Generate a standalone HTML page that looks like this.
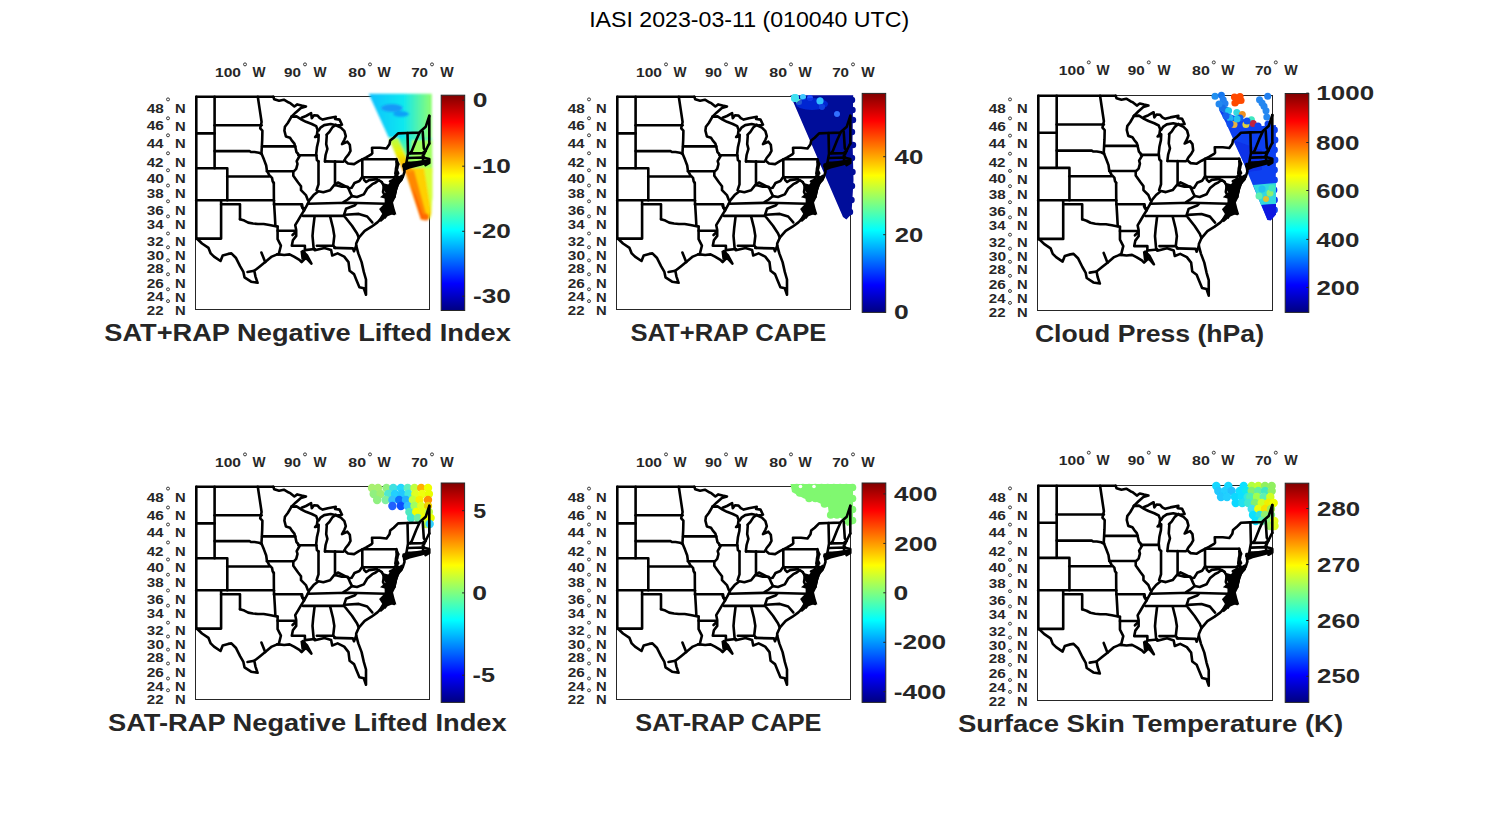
<!DOCTYPE html><html><head><meta charset="utf-8"><style>html,body{margin:0;padding:0;background:#fff;}svg{display:block;}text{font-family:"Liberation Sans",sans-serif;}</style></head><body>
<svg width="1500" height="825" viewBox="0 0 1500 825">
<defs>
<linearGradient id="jet" x1="0" y1="1" x2="0" y2="0"><stop offset="0" stop-color="#000080"/><stop offset="0.125" stop-color="#0000ff"/><stop offset="0.375" stop-color="#00ffff"/><stop offset="0.625" stop-color="#ffff00"/><stop offset="0.875" stop-color="#ff0000"/><stop offset="1" stop-color="#800000"/></linearGradient>
<g id="map" fill="none" stroke="#000" stroke-width="2.6" stroke-linejoin="round" stroke-linecap="round">
<polyline points="196.3,96.8 273.3,96.8"/>
<polyline points="196.3,96.8 196.3,238.6"/>
<polyline points="429.3,115.9 429.3,143.5"/>
<polyline points="214.6,96.8 214.6,168.2"/>
<polyline points="214.6,125.2 261.6,125.2"/>
<polyline points="196.3,133.4 214.6,133.4"/>
<polyline points="214.6,151.1 249.5,151.1 250.9,152.0 254.5,152.0 258.9,152.7 261.8,154.2 264.0,159.6 266.2,165.5 266.9,170.5 269.1,174.9 272.0,177.8 272.7,181.5 273.8,182.9"/>
<polyline points="196.3,168.2 227.3,168.2 227.3,200.3"/>
<polyline points="227.3,176.5 269.1,176.5"/>
<polyline points="196.3,200.3 273.9,200.3"/>
<polyline points="221.1,200.3 221.1,238.6 196.3,238.6"/>
<polyline points="221.1,204.2 240.0,204.2 240.0,219.2"/>
<polyline points="240.0,219.2 244.3,220.6 248.2,222.6 253.0,223.5 257.9,224.0 263.7,224.0 269.5,225.0 274.4,226.0 277.6,226.5"/>
<polyline points="273.8,182.9 273.9,200.3 274.8,215.0 275.4,226.0"/>
<polyline points="277.6,226.5 277.6,239.2 280.9,245.7 279.5,251.2 278.7,254.4"/>
<polyline points="273.9,204.3 302.1,204.3 302.6,208.2 304.5,208.2"/>
<polyline points="277.6,230.8 295.6,230.8"/>
<polyline points="257.8,96.8 259.7,109.4 261.6,122.0 260.2,128.3 262.4,130.7 262.2,140.0 261.8,147.3 261.5,152.4 261.8,154.2"/>
<polyline points="262.2,146.4 295.3,146.4"/>
<polyline points="266.9,171.3 293.3,171.3"/>
<polyline points="273.3,96.8 274.2,99.2 279.1,100.7 283.9,99.7 288.8,102.6 290.0,102.9 294.4,106.5 297.3,104.4 301.6,105.5 306.0,106.5 300.9,108.0 295.8,112.4 291.5,116.7"/>
<polyline points="291.5,116.7 287.8,123.0 284.9,126.8 284.4,130.7 285.9,136.5 290.0,137.8 291.7,140.4 294.4,143.6 295.6,148.2 296.5,152.1 298.0,153.8 297.5,153.1 299.6,156.0 296.7,161.1 297.5,164.0 296.2,168.9 293.3,171.8 293.3,175.7 298.1,182.5 301.0,186.3 301.0,190.2 305.9,195.1 307.8,199.9 308.8,200.9"/>
<polyline points="308.8,200.9 308.8,201.9 304.0,210.6 301.0,215.4 298.1,220.3 295.2,225.1 296.2,230.0 296.2,235.9 292.9,240.3 291.8,245.7 304.9,245.7 304.9,250.1"/>
<polyline points="291.5,116.7 296.5,116.4 301.6,119.6 306.0,121.8 311.8,124.0 316.2,126.2 317.6,129.8 316.9,134.9 315.1,137.1 317.5,136.5 318.7,134.9 318.4,140.7 316.9,147.3 316.2,153.8 316.9,160.0 318.5,161.4"/>
<polyline points="298.5,155.3 316.2,155.3"/>
<polyline points="301.6,117.8 306.0,116.0 311.1,113.1 311.8,118.2 314.0,115.3 317.6,115.6 319.8,118.2 322.7,119.6 327.8,118.2 335.8,116.7 335.1,118.9 339.5,119.6 342.0,124.7 337.3,125.5 330.7,124.0 324.2,125.1 320.5,127.6 318.7,130.5"/>
<polyline points="335.8,124.7 332.2,127.6 329.3,132.0 326.4,134.9 326.8,135.0 326.2,144.1 327.4,148.9 325.6,155.0 325.0,159.8 325.0,161.4"/>
<polyline points="336.5,125.5 340.9,127.6 344.4,131.1 345.8,136.2 344.4,139.8 342.0,144.1 347.4,141.7 349.8,144.7 350.5,150.8 348.6,154.4 345.6,158.0 344.4,160.5"/>
<polyline points="325.0,161.4 343.2,161.7"/>
<polyline points="344.4,160.5 348.0,163.5 354.1,164.1 358.9,161.1 366.2,157.4 371.3,154.4 372.3,153.2 372.0,147.8 380.0,147.8 386.5,148.5 389.5,144.2 390.2,140.6 393.7,137.7 398.1,133.4 406.8,133.0 419.2,132.6 420.6,131.2 425.7,126.8 429.3,115.9"/>
<polyline points="318.5,161.4 318.5,184.4 316.6,190.2"/>
<polyline points="335.0,161.4 335.0,184.4 335.3,185.0"/>
<polyline points="308.8,200.9 313.6,195.1 318.5,191.2 323.3,192.2 330.1,190.2 334.0,185.4 337.9,182.5 343.7,185.4 349.5,188.3 351.6,187.8 354.5,183.0 359.4,181.0 362.3,176.8"/>
<polyline points="362.3,160.5 362.3,176.8"/>
<polyline points="362.3,159.2 396.3,159.2"/>
<polyline points="362.3,177.2 394.3,177.2"/>
<polyline points="396.3,159.2 398.2,164.5 396.3,169.4 398.2,173.3 394.3,177.2 394.4,179.3 390.0,181.5"/>
<polyline points="307.8,203.8 347.6,202.8 385.9,203.8"/>
<polyline points="335.0,185.1 341.8,186.8 347.7,186.8 350.3,192.7 352.0,196.1 347.7,199.5 343.5,202.1"/>
<polyline points="352.0,196.1 357.0,197.0 363.8,194.4 367.2,188.5 372.3,184.2 375.7,182.5 378.8,180.1 381.7,182.0"/>
<polyline points="363.3,177.2 364.2,180.1 366.2,182.0 369.1,180.1 376.9,179.1"/>
<polyline points="303.0,215.9 343.7,215.9"/>
<polyline points="314.6,216.4 313.2,228.0 312.5,235.9 313.6,247.9 314.7,250.1"/>
<polyline points="330.1,216.4 333.0,228.0 334.3,235.9 333.2,245.7 335.4,247.9"/>
<polyline points="316.9,245.7 333.2,245.7"/>
<polyline points="334.3,247.9 352.9,248.4 354.0,251.2 356.2,245.7"/>
<polyline points="343.7,215.9 346.0,208.8 354.5,205.5 356.2,203.8"/>
<polyline points="345.2,214.8 358.8,213.9 367.2,216.5 372.3,222.4"/>
<polyline points="345.2,217.3 352.0,225.8 357.1,233.5 358.8,237.7"/>
<polyline points="399.5,180.0 396.1,188.5 394.4,197.0 390.2,205.5 394.4,213.9 389.3,212.2 384.2,215.6 377.4,222.4 371.5,226.7 364.7,230.9 358.8,237.7 356.2,243.6 356.2,245.7 358.3,253.4 361.6,262.1 363.8,271.9 366.0,279.5 366.0,294.8 363.8,288.3 359.4,287.2 356.2,279.5 354.0,274.1 349.6,270.8 348.5,262.1 344.2,256.6 337.6,253.4 332.2,255.5 331.1,250.1 324.5,247.9 315.8,250.1 314.7,249.0 304.9,250.1"/>
<polyline points="302.7,251.2 307.1,255.5 311.4,263.7 306.0,257.7 301.6,262.1 299.4,259.9 294.0,256.6 289.6,254.4 284.2,255.0 278.7,254.4 277.2,254.4"/>
<polyline points="277.2,254.4 271.8,256.6 265.2,262.1 259.8,266.4 254.3,270.8 255.4,276.3 257.6,282.8 251.1,281.7 244.5,277.3 243.4,271.9 240.2,266.4 235.8,257.7 231.4,253.4 228.2,253.9 222.7,255.5 220.5,261.0 214.0,256.6 210.7,253.4 208.5,247.9 202.0,243.5 197.6,239.2 196.3,238.6"/>
<polyline points="407.5,133.0 408.0,153.6 406.4,162.9 403.6,166.2"/>
<polyline points="419.5,132.8 416.2,140.0 411.8,150.9 410.2,153.1"/>
<polyline points="409.1,153.4 422.7,153.1 425.5,150.9"/>
<polyline points="422.7,131.5 423.8,148.2 425.5,150.9"/>
<polyline points="429.3,143.5 428.2,145.5 425.5,150.9 423.8,154.7 422.7,155.8 424.9,158.0 429.3,159.1 429.3,162.9 425.5,165.1"/>
<polyline points="408.0,158.0 422.7,157.5 423.5,161.8"/>
<polyline points="408.0,162.9 417.3,162.9 423.8,161.8"/>
<polyline points="403.6,166.2 411.8,165.6 420.0,164.0 427.1,162.9"/>
<polyline points="398.2,164.0 397.1,164.0 396.0,168.4 395.5,173.8 397.6,178.2 398.2,183.6"/>
<polyline points="381.7,182.0 384.0,186.0 383.0,192.0 385.9,198.0 386.0,203.8"/>
<polyline points="394.3,177.2 393.0,183.0 396.0,188.0 394.4,197.0"/>
<polyline points="265.2,262.1 261.4,252.5"/>
<polyline points="254.3,270.8 247.5,272.0"/>
<polyline points="304.0,210.6 301.5,206.0"/>
<polyline points="295.2,232.5 292.5,235.0"/>
<polyline points="403.6,164.5 404.5,171.8 402.7,177.3 400.0,180.9"/>
<polyline points="396.4,161.8 397.3,168.2 395.5,173.6 400.0,180.0"/>
<polygon fill="#000" stroke="none" points="397.3,177.3 401.8,174.5 403.6,176.0 403.0,180.0 399.1,184.5 396.4,192.7 392.7,200.9 394.5,208.2 396.4,214.5 390.0,211.8 385.5,219.1 379.1,209.1 384.5,203.6 386.4,199.1 380.0,197.3 385.5,192.7 382.7,188.2 381.8,182.7 388.2,184.5 391.8,180.0"/>
<polygon fill="#000" stroke="none" points="389.3,206.5 393.4,213.9 387.6,216.3 381.0,222.1 378.4,219.9 382.5,213.2 385.9,210.7"/>
<polygon fill="#000" stroke="none" points="403.0,164.5 412.0,161.8 425.0,159.8 430.0,159.0 430.0,162.5 422.0,165.5 410.0,168.5 404.0,171.0"/>
<polygon fill="#000" stroke="none" points="300.4,251.1 305.0,250.0 306.1,255.5 310.4,262.7 305.0,258.9 301.5,260.1"/>
</g>
<filter id="soft" x="-10%" y="-10%" width="120%" height="120%"><feGaussianBlur stdDeviation="0.8"/></filter>
<filter id="soft2" x="-10%" y="-10%" width="120%" height="120%"><feGaussianBlur stdDeviation="0.7"/></filter>
<linearGradient id="p1top" x1="0" y1="0" x2="1" y2="0"><stop offset="0" stop-color="#10c0ff"/><stop offset="0.55" stop-color="#10e8f0"/><stop offset="1" stop-color="#90ff70"/></linearGradient>
<linearGradient id="p1yel" x1="0" y1="0" x2="0" y2="1"><stop offset="0" stop-color="#b0ff50"/><stop offset="0.45" stop-color="#f0f000"/><stop offset="1" stop-color="#ff9800"/></linearGradient>
<linearGradient id="p1mid" x1="0" y1="0" x2="0" y2="1"><stop offset="0" stop-color="#20f0d0"/><stop offset="0.45" stop-color="#70ff90"/><stop offset="1" stop-color="#f0ff10"/></linearGradient>

</defs>
<rect width="1500" height="825" fill="#fff"/>
<text x="589.18" y="26.80" font-size="22.91" textLength="319.95" lengthAdjust="spacingAndGlyphs" fill="#000">IASI 2023-03-11 (010040 UTC)</text>
<rect x="195.5" y="96.5" width="234.0" height="213.0" fill="none" stroke="#262626" stroke-width="1"/>
<g clip-path="none">
<g filter="url(#soft)">
<polygon points="368.7,93.8 431.8,93.8 431.8,140.0 431.8,160.0" fill="none"/>
<polygon points="368.7,93.8 431.8,93.8 431.8,150.0 389.1,138.4" fill="url(#p1top)"/>
<polygon points="389.1,138.4 431.8,138.4 432.3,172.7 405.9,172.7 398.8,161.7" fill="url(#p1mid)"/>
<ellipse cx="392" cy="108" rx="11" ry="4" fill="#1898f8"/>
<ellipse cx="401" cy="114" rx="8" ry="3" fill="#10a0f8"/>
<polygon points="412.0,140.0 432.3,140.0 432.3,200.0 420.0,200.0 412.0,172.0" fill="#a0ff60"/>
<polygon points="404.0,168.0 432.3,168.0 432.3,196.0 431.4,214.0 430.0,219.0 421.0,219.5" fill="#d8ff30"/>
<polygon points="404.0,168.0 424.0,168.0 430.0,205.0 431.0,214.0 428.0,220.0 421.0,219.5" fill="#ffd000"/>
<polygon points="404.0,168.0 414.0,170.0 426.0,214.0 427.0,220.0 421.0,219.5" fill="#ff8800"/>
<polygon points="410.0,184.0 416.0,196.0 424.0,219.0 421.0,219.5" fill="#ff5a00"/>
<circle cx="425.5" cy="217.0" r="3.5" fill="#ff6a00"/>
<polygon points="388.5,138.0 398.0,138.0 413.0,172.0 403.3,172.0" fill="url(#p1yel)"/>
</g>
</g>
<use href="#map" transform="translate(195.50 96.50) scale(1.00000 1.00000) translate(-195.5 -96.5)"/>
<text x="215.02" y="76.67" font-size="13.56" textLength="26.02" lengthAdjust="spacingAndGlyphs" fill="#262626" font-weight="bold">100</text>
<circle cx="245.0" cy="64.4" r="1.5" fill="none" stroke="#262626" stroke-width="0.9"/>
<text x="252.59" y="76.80" font-size="13.95" textLength="13.03" lengthAdjust="spacingAndGlyphs" fill="#262626" font-weight="bold">W</text>
<text x="284.07" y="76.67" font-size="13.56" textLength="16.95" lengthAdjust="spacingAndGlyphs" fill="#262626" font-weight="bold">90</text>
<circle cx="305.0" cy="64.4" r="1.5" fill="none" stroke="#262626" stroke-width="0.9"/>
<text x="313.59" y="76.80" font-size="13.95" textLength="13.03" lengthAdjust="spacingAndGlyphs" fill="#262626" font-weight="bold">W</text>
<text x="348.29" y="76.67" font-size="13.56" textLength="17.76" lengthAdjust="spacingAndGlyphs" fill="#262626" font-weight="bold">80</text>
<circle cx="370.0" cy="64.4" r="1.5" fill="none" stroke="#262626" stroke-width="0.9"/>
<text x="377.59" y="76.80" font-size="13.95" textLength="13.23" lengthAdjust="spacingAndGlyphs" fill="#262626" font-weight="bold">W</text>
<text x="411.15" y="76.67" font-size="13.56" textLength="16.87" lengthAdjust="spacingAndGlyphs" fill="#262626" font-weight="bold">70</text>
<circle cx="432.0" cy="64.4" r="1.5" fill="none" stroke="#262626" stroke-width="0.9"/>
<text x="440.39" y="76.80" font-size="13.95" textLength="13.43" lengthAdjust="spacingAndGlyphs" fill="#262626" font-weight="bold">W</text>
<text x="146.65" y="112.58" font-size="12.71" textLength="17.02" lengthAdjust="spacingAndGlyphs" fill="#262626" font-weight="bold">48</text>
<circle cx="168.0" cy="99.4" r="1.5" fill="none" stroke="#262626" stroke-width="0.9"/>
<text x="175.11" y="112.70" font-size="13.08" textLength="10.69" lengthAdjust="spacingAndGlyphs" fill="#262626" font-weight="bold">N</text>
<text x="146.65" y="130.47" font-size="12.99" textLength="17.21" lengthAdjust="spacingAndGlyphs" fill="#262626" font-weight="bold">46</text>
<circle cx="168.0" cy="118.3" r="1.5" fill="none" stroke="#262626" stroke-width="0.9"/>
<text x="175.11" y="130.60" font-size="13.37" textLength="10.69" lengthAdjust="spacingAndGlyphs" fill="#262626" font-weight="bold">N</text>
<text x="146.66" y="147.78" font-size="12.71" textLength="16.83" lengthAdjust="spacingAndGlyphs" fill="#262626" font-weight="bold">44</text>
<circle cx="168.0" cy="135.3" r="1.5" fill="none" stroke="#262626" stroke-width="0.9"/>
<text x="175.11" y="147.90" font-size="13.08" textLength="10.69" lengthAdjust="spacingAndGlyphs" fill="#262626" font-weight="bold">N</text>
<text x="146.66" y="166.78" font-size="12.71" textLength="16.83" lengthAdjust="spacingAndGlyphs" fill="#262626" font-weight="bold">42</text>
<circle cx="168.0" cy="153.3" r="1.5" fill="none" stroke="#262626" stroke-width="0.9"/>
<text x="175.11" y="166.90" font-size="13.08" textLength="10.69" lengthAdjust="spacingAndGlyphs" fill="#262626" font-weight="bold">N</text>
<text x="146.65" y="182.78" font-size="12.43" textLength="17.37" lengthAdjust="spacingAndGlyphs" fill="#262626" font-weight="bold">40</text>
<circle cx="168.0" cy="170.3" r="1.5" fill="none" stroke="#262626" stroke-width="0.9"/>
<text x="175.11" y="182.90" font-size="12.79" textLength="10.69" lengthAdjust="spacingAndGlyphs" fill="#262626" font-weight="bold">N</text>
<text x="146.82" y="197.77" font-size="12.99" textLength="16.85" lengthAdjust="spacingAndGlyphs" fill="#262626" font-weight="bold">38</text>
<circle cx="168.0" cy="185.5" r="1.5" fill="none" stroke="#262626" stroke-width="0.9"/>
<text x="175.11" y="197.90" font-size="13.37" textLength="10.69" lengthAdjust="spacingAndGlyphs" fill="#262626" font-weight="bold">N</text>
<text x="146.81" y="214.77" font-size="12.85" textLength="17.05" lengthAdjust="spacingAndGlyphs" fill="#262626" font-weight="bold">36</text>
<circle cx="168.0" cy="201.3" r="1.5" fill="none" stroke="#262626" stroke-width="0.9"/>
<text x="175.11" y="214.90" font-size="13.23" textLength="10.69" lengthAdjust="spacingAndGlyphs" fill="#262626" font-weight="bold">N</text>
<text x="146.82" y="228.57" font-size="12.85" textLength="16.67" lengthAdjust="spacingAndGlyphs" fill="#262626" font-weight="bold">34</text>
<circle cx="168.0" cy="216.4" r="1.5" fill="none" stroke="#262626" stroke-width="0.9"/>
<text x="175.11" y="228.70" font-size="13.23" textLength="10.69" lengthAdjust="spacingAndGlyphs" fill="#262626" font-weight="bold">N</text>
<text x="146.82" y="245.67" font-size="12.85" textLength="16.66" lengthAdjust="spacingAndGlyphs" fill="#262626" font-weight="bold">32</text>
<circle cx="168.0" cy="233.5" r="1.5" fill="none" stroke="#262626" stroke-width="0.9"/>
<text x="175.11" y="245.80" font-size="13.23" textLength="10.69" lengthAdjust="spacingAndGlyphs" fill="#262626" font-weight="bold">N</text>
<text x="146.81" y="259.58" font-size="12.43" textLength="17.21" lengthAdjust="spacingAndGlyphs" fill="#262626" font-weight="bold">30</text>
<circle cx="168.0" cy="247.3" r="1.5" fill="none" stroke="#262626" stroke-width="0.9"/>
<text x="175.11" y="259.70" font-size="12.79" textLength="10.69" lengthAdjust="spacingAndGlyphs" fill="#262626" font-weight="bold">N</text>
<text x="146.79" y="272.58" font-size="11.86" textLength="16.87" lengthAdjust="spacingAndGlyphs" fill="#262626" font-weight="bold">28</text>
<circle cx="168.0" cy="260.4" r="1.5" fill="none" stroke="#262626" stroke-width="0.9"/>
<text x="175.11" y="272.70" font-size="12.21" textLength="10.69" lengthAdjust="spacingAndGlyphs" fill="#262626" font-weight="bold">N</text>
<text x="146.79" y="287.57" font-size="12.85" textLength="17.07" lengthAdjust="spacingAndGlyphs" fill="#262626" font-weight="bold">26</text>
<circle cx="168.0" cy="274.3" r="1.5" fill="none" stroke="#262626" stroke-width="0.9"/>
<text x="175.11" y="287.70" font-size="13.23" textLength="10.69" lengthAdjust="spacingAndGlyphs" fill="#262626" font-weight="bold">N</text>
<text x="146.80" y="301.38" font-size="12.29" textLength="16.69" lengthAdjust="spacingAndGlyphs" fill="#262626" font-weight="bold">24</text>
<circle cx="168.0" cy="289.3" r="1.5" fill="none" stroke="#262626" stroke-width="0.9"/>
<text x="175.11" y="301.50" font-size="12.65" textLength="10.69" lengthAdjust="spacingAndGlyphs" fill="#262626" font-weight="bold">N</text>
<text x="146.80" y="314.77" font-size="12.85" textLength="16.69" lengthAdjust="spacingAndGlyphs" fill="#262626" font-weight="bold">22</text>
<circle cx="168.0" cy="301.1" r="1.5" fill="none" stroke="#262626" stroke-width="0.9"/>
<text x="175.11" y="314.90" font-size="13.23" textLength="10.69" lengthAdjust="spacingAndGlyphs" fill="#262626" font-weight="bold">N</text>
<rect x="441.2" y="95.2" width="23.5" height="215.3" fill="url(#jet)" stroke="#262626" stroke-width="1"/>
<text x="472.85" y="107.25" font-size="20.62" textLength="14.74" lengthAdjust="spacingAndGlyphs" fill="#262626" font-weight="bold">0</text>
<line x1="462.2" y1="100.2" x2="464.7" y2="100.2" stroke="#262626" stroke-width="1"/>
<text x="473.01" y="173.30" font-size="20.62" textLength="37.90" lengthAdjust="spacingAndGlyphs" fill="#262626" font-weight="bold">-10</text>
<line x1="462.2" y1="166.2" x2="464.7" y2="166.2" stroke="#262626" stroke-width="1"/>
<text x="473.01" y="238.45" font-size="20.62" textLength="37.90" lengthAdjust="spacingAndGlyphs" fill="#262626" font-weight="bold">-20</text>
<line x1="462.2" y1="231.3" x2="464.7" y2="231.3" stroke="#262626" stroke-width="1"/>
<text x="473.01" y="303.30" font-size="20.62" textLength="37.90" lengthAdjust="spacingAndGlyphs" fill="#262626" font-weight="bold">-30</text>
<line x1="462.2" y1="296.2" x2="464.7" y2="296.2" stroke="#262626" stroke-width="1"/>
<text x="104.22" y="340.80" font-size="23.69" textLength="406.68" lengthAdjust="spacingAndGlyphs" fill="#262626" font-weight="bold">SAT+RAP Negative Lifted Index</text>
<rect x="616.5" y="96.5" width="234.0" height="213.0" fill="none" stroke="#262626" stroke-width="1"/>
<g clip-path="none">
<g filter="url(#soft2)">
<polygon points="790.4,95.2 853.2,95.2 852.5,140.0 853.5,180.0 851.5,214.0 846.4,219.5 843.0,217.0" fill="#00089a"/>
<circle cx="852.0" cy="100.0" r="3.2" fill="#00089a"/>
<circle cx="852.5" cy="110.0" r="3.2" fill="#00089a"/>
<circle cx="853.0" cy="120.0" r="3.2" fill="#00089a"/>
<circle cx="852.0" cy="132.0" r="3.2" fill="#00089a"/>
<circle cx="853.0" cy="145.0" r="3.2" fill="#00089a"/>
<circle cx="852.0" cy="158.0" r="3.2" fill="#00089a"/>
<circle cx="852.5" cy="172.0" r="3.2" fill="#00089a"/>
<circle cx="852.0" cy="186.0" r="3.2" fill="#00089a"/>
<circle cx="851.5" cy="200.0" r="3.2" fill="#00089a"/>
<circle cx="850.0" cy="212.0" r="3.2" fill="#00089a"/>
<circle cx="795.0" cy="98.0" r="4.0" fill="#40e0f0"/>
<circle cx="799.0" cy="102.0" r="3.0" fill="#80ffa0"/>
<circle cx="803.0" cy="97.0" r="3.0" fill="#40c8ff"/>
<circle cx="810.0" cy="98.0" r="3.0" fill="#2050ff"/>
<circle cx="820.0" cy="101.0" r="3.5" fill="#30c0ff"/>
<circle cx="837.0" cy="114.0" r="3.0" fill="#3070ff"/>
<ellipse cx="812" cy="104" rx="16" ry="6" fill="#0830e0" opacity="0.8"/>
<circle cx="795.0" cy="98.0" r="4.0" fill="#40e0f0"/>
<circle cx="820.0" cy="101.0" r="3.5" fill="#30c0ff"/>
<circle cx="822.0" cy="107.0" r="3.0" fill="#1040e0"/>
</g>
</g>
<use href="#map" transform="translate(616.50 96.50) scale(1.00000 1.00000) translate(-195.5 -96.5)"/>
<text x="636.02" y="76.67" font-size="13.56" textLength="26.02" lengthAdjust="spacingAndGlyphs" fill="#262626" font-weight="bold">100</text>
<circle cx="666.0" cy="64.4" r="1.5" fill="none" stroke="#262626" stroke-width="0.9"/>
<text x="673.59" y="76.80" font-size="13.95" textLength="13.03" lengthAdjust="spacingAndGlyphs" fill="#262626" font-weight="bold">W</text>
<text x="705.07" y="76.67" font-size="13.56" textLength="16.95" lengthAdjust="spacingAndGlyphs" fill="#262626" font-weight="bold">90</text>
<circle cx="726.0" cy="64.4" r="1.5" fill="none" stroke="#262626" stroke-width="0.9"/>
<text x="734.59" y="76.80" font-size="13.95" textLength="13.03" lengthAdjust="spacingAndGlyphs" fill="#262626" font-weight="bold">W</text>
<text x="769.29" y="76.67" font-size="13.56" textLength="17.76" lengthAdjust="spacingAndGlyphs" fill="#262626" font-weight="bold">80</text>
<circle cx="791.0" cy="64.4" r="1.5" fill="none" stroke="#262626" stroke-width="0.9"/>
<text x="798.59" y="76.80" font-size="13.95" textLength="13.23" lengthAdjust="spacingAndGlyphs" fill="#262626" font-weight="bold">W</text>
<text x="832.15" y="76.67" font-size="13.56" textLength="16.87" lengthAdjust="spacingAndGlyphs" fill="#262626" font-weight="bold">70</text>
<circle cx="853.0" cy="64.4" r="1.5" fill="none" stroke="#262626" stroke-width="0.9"/>
<text x="861.39" y="76.80" font-size="13.95" textLength="13.43" lengthAdjust="spacingAndGlyphs" fill="#262626" font-weight="bold">W</text>
<text x="567.65" y="112.58" font-size="12.71" textLength="17.02" lengthAdjust="spacingAndGlyphs" fill="#262626" font-weight="bold">48</text>
<circle cx="589.0" cy="99.4" r="1.5" fill="none" stroke="#262626" stroke-width="0.9"/>
<text x="596.11" y="112.70" font-size="13.08" textLength="10.69" lengthAdjust="spacingAndGlyphs" fill="#262626" font-weight="bold">N</text>
<text x="567.65" y="130.47" font-size="12.99" textLength="17.21" lengthAdjust="spacingAndGlyphs" fill="#262626" font-weight="bold">46</text>
<circle cx="589.0" cy="118.3" r="1.5" fill="none" stroke="#262626" stroke-width="0.9"/>
<text x="596.11" y="130.60" font-size="13.37" textLength="10.69" lengthAdjust="spacingAndGlyphs" fill="#262626" font-weight="bold">N</text>
<text x="567.66" y="147.78" font-size="12.71" textLength="16.83" lengthAdjust="spacingAndGlyphs" fill="#262626" font-weight="bold">44</text>
<circle cx="589.0" cy="135.3" r="1.5" fill="none" stroke="#262626" stroke-width="0.9"/>
<text x="596.11" y="147.90" font-size="13.08" textLength="10.69" lengthAdjust="spacingAndGlyphs" fill="#262626" font-weight="bold">N</text>
<text x="567.66" y="166.78" font-size="12.71" textLength="16.83" lengthAdjust="spacingAndGlyphs" fill="#262626" font-weight="bold">42</text>
<circle cx="589.0" cy="153.3" r="1.5" fill="none" stroke="#262626" stroke-width="0.9"/>
<text x="596.11" y="166.90" font-size="13.08" textLength="10.69" lengthAdjust="spacingAndGlyphs" fill="#262626" font-weight="bold">N</text>
<text x="567.65" y="182.78" font-size="12.43" textLength="17.37" lengthAdjust="spacingAndGlyphs" fill="#262626" font-weight="bold">40</text>
<circle cx="589.0" cy="170.3" r="1.5" fill="none" stroke="#262626" stroke-width="0.9"/>
<text x="596.11" y="182.90" font-size="12.79" textLength="10.69" lengthAdjust="spacingAndGlyphs" fill="#262626" font-weight="bold">N</text>
<text x="567.82" y="197.77" font-size="12.99" textLength="16.85" lengthAdjust="spacingAndGlyphs" fill="#262626" font-weight="bold">38</text>
<circle cx="589.0" cy="185.5" r="1.5" fill="none" stroke="#262626" stroke-width="0.9"/>
<text x="596.11" y="197.90" font-size="13.37" textLength="10.69" lengthAdjust="spacingAndGlyphs" fill="#262626" font-weight="bold">N</text>
<text x="567.81" y="214.77" font-size="12.85" textLength="17.05" lengthAdjust="spacingAndGlyphs" fill="#262626" font-weight="bold">36</text>
<circle cx="589.0" cy="201.3" r="1.5" fill="none" stroke="#262626" stroke-width="0.9"/>
<text x="596.11" y="214.90" font-size="13.23" textLength="10.69" lengthAdjust="spacingAndGlyphs" fill="#262626" font-weight="bold">N</text>
<text x="567.82" y="228.57" font-size="12.85" textLength="16.67" lengthAdjust="spacingAndGlyphs" fill="#262626" font-weight="bold">34</text>
<circle cx="589.0" cy="216.4" r="1.5" fill="none" stroke="#262626" stroke-width="0.9"/>
<text x="596.11" y="228.70" font-size="13.23" textLength="10.69" lengthAdjust="spacingAndGlyphs" fill="#262626" font-weight="bold">N</text>
<text x="567.82" y="245.67" font-size="12.85" textLength="16.66" lengthAdjust="spacingAndGlyphs" fill="#262626" font-weight="bold">32</text>
<circle cx="589.0" cy="233.5" r="1.5" fill="none" stroke="#262626" stroke-width="0.9"/>
<text x="596.11" y="245.80" font-size="13.23" textLength="10.69" lengthAdjust="spacingAndGlyphs" fill="#262626" font-weight="bold">N</text>
<text x="567.81" y="259.58" font-size="12.43" textLength="17.21" lengthAdjust="spacingAndGlyphs" fill="#262626" font-weight="bold">30</text>
<circle cx="589.0" cy="247.3" r="1.5" fill="none" stroke="#262626" stroke-width="0.9"/>
<text x="596.11" y="259.70" font-size="12.79" textLength="10.69" lengthAdjust="spacingAndGlyphs" fill="#262626" font-weight="bold">N</text>
<text x="567.79" y="272.58" font-size="11.86" textLength="16.87" lengthAdjust="spacingAndGlyphs" fill="#262626" font-weight="bold">28</text>
<circle cx="589.0" cy="260.4" r="1.5" fill="none" stroke="#262626" stroke-width="0.9"/>
<text x="596.11" y="272.70" font-size="12.21" textLength="10.69" lengthAdjust="spacingAndGlyphs" fill="#262626" font-weight="bold">N</text>
<text x="567.79" y="287.57" font-size="12.85" textLength="17.07" lengthAdjust="spacingAndGlyphs" fill="#262626" font-weight="bold">26</text>
<circle cx="589.0" cy="274.3" r="1.5" fill="none" stroke="#262626" stroke-width="0.9"/>
<text x="596.11" y="287.70" font-size="13.23" textLength="10.69" lengthAdjust="spacingAndGlyphs" fill="#262626" font-weight="bold">N</text>
<text x="567.80" y="301.38" font-size="12.29" textLength="16.69" lengthAdjust="spacingAndGlyphs" fill="#262626" font-weight="bold">24</text>
<circle cx="589.0" cy="289.3" r="1.5" fill="none" stroke="#262626" stroke-width="0.9"/>
<text x="596.11" y="301.50" font-size="12.65" textLength="10.69" lengthAdjust="spacingAndGlyphs" fill="#262626" font-weight="bold">N</text>
<text x="567.80" y="314.77" font-size="12.85" textLength="16.69" lengthAdjust="spacingAndGlyphs" fill="#262626" font-weight="bold">22</text>
<circle cx="589.0" cy="301.1" r="1.5" fill="none" stroke="#262626" stroke-width="0.9"/>
<text x="596.11" y="314.90" font-size="13.23" textLength="10.69" lengthAdjust="spacingAndGlyphs" fill="#262626" font-weight="bold">N</text>
<rect x="862.2" y="93.4" width="23.5" height="219.0" fill="url(#jet)" stroke="#262626" stroke-width="1"/>
<text x="894.61" y="163.80" font-size="20.62" textLength="28.73" lengthAdjust="spacingAndGlyphs" fill="#262626" font-weight="bold">40</text>
<line x1="883.2" y1="156.7" x2="885.7" y2="156.7" stroke="#262626" stroke-width="1"/>
<text x="894.83" y="241.80" font-size="20.62" textLength="28.50" lengthAdjust="spacingAndGlyphs" fill="#262626" font-weight="bold">20</text>
<line x1="883.2" y1="234.7" x2="885.7" y2="234.7" stroke="#262626" stroke-width="1"/>
<text x="894.01" y="319.40" font-size="20.62" textLength="14.74" lengthAdjust="spacingAndGlyphs" fill="#262626" font-weight="bold">0</text>
<line x1="883.2" y1="312.3" x2="885.7" y2="312.3" stroke="#262626" stroke-width="1"/>
<text x="630.47" y="340.70" font-size="23.55" textLength="195.81" lengthAdjust="spacingAndGlyphs" fill="#262626" font-weight="bold">SAT+RAP CAPE</text>
<rect x="1037.5" y="95.5" width="235.0" height="215.0" fill="none" stroke="#262626" stroke-width="1"/>
<g clip-path="none">
<g filter="url(#soft2)">
<polygon points="1219.0,110.0 1262.0,126.0 1275.9,125.0 1275.9,172.0 1275.0,202.5 1275.9,214.4 1270.8,220.0 1267.4,219.5 1261.5,205.9 1248.8,175.4 1240.3,155.0 1226.0,123.0" fill="#0c40f0"/>
<polygon points="1233.0,140.0 1262.0,150.0 1262.0,170.0 1248.0,172.0" fill="#0a30e8"/>
<circle cx="1274.5" cy="130.0" r="3.4" fill="#0c40f0"/>
<circle cx="1275.0" cy="140.0" r="3.4" fill="#0c40f0"/>
<circle cx="1274.5" cy="150.0" r="3.4" fill="#0c40f0"/>
<circle cx="1275.0" cy="160.0" r="3.4" fill="#0c40f0"/>
<circle cx="1274.5" cy="170.0" r="3.4" fill="#0c40f0"/>
<circle cx="1274.5" cy="180.0" r="3.4" fill="#0c40f0"/>
<circle cx="1274.0" cy="190.0" r="3.4" fill="#0c40f0"/>
<circle cx="1274.5" cy="200.0" r="3.4" fill="#0c40f0"/>
<circle cx="1274.5" cy="210.0" r="3.4" fill="#0c40f0"/>
<polygon points="1253.0,185.0 1276.0,183.0 1276.0,204.0 1261.0,205.0" fill="#30d8e0"/>
<circle cx="1262.0" cy="189.0" r="3.5" fill="#20c0f0"/>
<circle cx="1270.0" cy="193.0" r="3.5" fill="#90f070"/>
<circle cx="1259.0" cy="196.0" r="3.5" fill="#60f0b0"/>
<circle cx="1272.0" cy="188.0" r="3.5" fill="#40e8c0"/>
<circle cx="1266.0" cy="199.0" r="3.0" fill="#e0c030"/>
<polygon points="1261.5,205.0 1276.0,204.0 1275.9,214.4 1270.8,220.5 1267.4,220.0" fill="#0818e0"/>
<circle cx="1215.0" cy="96.2" r="3.5" fill="#2090f0"/>
<circle cx="1221.4" cy="95.3" r="3.5" fill="#1878f0"/>
<circle cx="1223.2" cy="99.8" r="3.5" fill="#2080f0"/>
<circle cx="1225.0" cy="103.5" r="3.5" fill="#2080f0"/>
<circle cx="1222.3" cy="108.0" r="3.5" fill="#1870e8"/>
<circle cx="1219.0" cy="104.0" r="3.5" fill="#2088f0"/>
<circle cx="1226.0" cy="110.0" r="3.5" fill="#1870e8"/>
<circle cx="1259.5" cy="99.8" r="3.5" fill="#2888f0"/>
<circle cx="1267.7" cy="96.2" r="3.5" fill="#2080f0"/>
<circle cx="1264.0" cy="106.2" r="3.5" fill="#2888f0"/>
<circle cx="1266.0" cy="110.7" r="3.5" fill="#2888f0"/>
<circle cx="1266.8" cy="117.1" r="3.5" fill="#2888f0"/>
<circle cx="1262.0" cy="103.0" r="3.5" fill="#2888f0"/>
<circle cx="1228.6" cy="110.7" r="3.5" fill="#20c8f0"/>
<circle cx="1236.8" cy="112.5" r="3.5" fill="#30d8e0"/>
<circle cx="1242.3" cy="114.4" r="3.5" fill="#f09020"/>
<circle cx="1240.0" cy="118.0" r="3.5" fill="#1060f0"/>
<circle cx="1251.4" cy="119.8" r="3.5" fill="#40e8c0"/>
<circle cx="1253.2" cy="123.5" r="3.5" fill="#c02040"/>
<circle cx="1234.0" cy="124.4" r="3.5" fill="#e8b040"/>
<circle cx="1245.9" cy="124.4" r="3.5" fill="#e0d040"/>
<circle cx="1230.0" cy="118.0" r="3.5" fill="#20b0f0"/>
<circle cx="1247.0" cy="121.0" r="3.5" fill="#1050f0"/>
<circle cx="1258.0" cy="126.0" r="3.5" fill="#1040f0"/>
<circle cx="1268.0" cy="124.0" r="3.5" fill="#1040f0"/>
<circle cx="1237.0" cy="119.0" r="3.5" fill="#20c0f0"/>
<circle cx="1230.0" cy="124.0" r="3.5" fill="#1050f0"/>
<circle cx="1226.0" cy="116.0" r="3.5" fill="#1860f0"/>
<circle cx="1234.5" cy="97.0" r="3.6" fill="#ff4a00"/>
<circle cx="1240.0" cy="96.5" r="3.6" fill="#ff4a00"/>
<circle cx="1237.0" cy="101.0" r="3.6" fill="#ff4a00"/>
<circle cx="1241.0" cy="100.5" r="3.6" fill="#ff4a00"/>
<circle cx="1235.0" cy="103.0" r="3.6" fill="#ff4a00"/>
</g>
</g>
<use href="#map" transform="translate(1037.50 95.50) scale(1.00427 1.00939) translate(-195.5 -96.5)"/>
<text x="1058.82" y="74.67" font-size="13.56" textLength="26.02" lengthAdjust="spacingAndGlyphs" fill="#262626" font-weight="bold">100</text>
<circle cx="1088.8" cy="62.4" r="1.5" fill="none" stroke="#262626" stroke-width="0.9"/>
<text x="1096.39" y="74.80" font-size="13.95" textLength="13.03" lengthAdjust="spacingAndGlyphs" fill="#262626" font-weight="bold">W</text>
<text x="1127.87" y="74.67" font-size="13.56" textLength="16.95" lengthAdjust="spacingAndGlyphs" fill="#262626" font-weight="bold">90</text>
<circle cx="1148.8" cy="62.4" r="1.5" fill="none" stroke="#262626" stroke-width="0.9"/>
<text x="1157.39" y="74.80" font-size="13.95" textLength="13.03" lengthAdjust="spacingAndGlyphs" fill="#262626" font-weight="bold">W</text>
<text x="1192.09" y="74.67" font-size="13.56" textLength="17.76" lengthAdjust="spacingAndGlyphs" fill="#262626" font-weight="bold">80</text>
<circle cx="1213.8" cy="62.4" r="1.5" fill="none" stroke="#262626" stroke-width="0.9"/>
<text x="1221.39" y="74.80" font-size="13.95" textLength="13.23" lengthAdjust="spacingAndGlyphs" fill="#262626" font-weight="bold">W</text>
<text x="1254.95" y="74.67" font-size="13.56" textLength="16.87" lengthAdjust="spacingAndGlyphs" fill="#262626" font-weight="bold">70</text>
<circle cx="1275.8" cy="62.4" r="1.5" fill="none" stroke="#262626" stroke-width="0.9"/>
<text x="1284.19" y="74.80" font-size="13.95" textLength="13.43" lengthAdjust="spacingAndGlyphs" fill="#262626" font-weight="bold">W</text>
<text x="988.65" y="112.66" font-size="12.83" textLength="17.02" lengthAdjust="spacingAndGlyphs" fill="#262626" font-weight="bold">48</text>
<circle cx="1010.0" cy="99.4" r="1.5" fill="none" stroke="#262626" stroke-width="0.9"/>
<text x="1017.11" y="112.78" font-size="13.20" textLength="10.69" lengthAdjust="spacingAndGlyphs" fill="#262626" font-weight="bold">N</text>
<text x="988.65" y="130.71" font-size="13.11" textLength="17.21" lengthAdjust="spacingAndGlyphs" fill="#262626" font-weight="bold">46</text>
<circle cx="1010.0" cy="118.4" r="1.5" fill="none" stroke="#262626" stroke-width="0.9"/>
<text x="1017.11" y="130.84" font-size="13.49" textLength="10.69" lengthAdjust="spacingAndGlyphs" fill="#262626" font-weight="bold">N</text>
<text x="988.66" y="148.17" font-size="12.83" textLength="16.83" lengthAdjust="spacingAndGlyphs" fill="#262626" font-weight="bold">44</text>
<circle cx="1010.0" cy="135.6" r="1.5" fill="none" stroke="#262626" stroke-width="0.9"/>
<text x="1017.11" y="148.30" font-size="13.20" textLength="10.69" lengthAdjust="spacingAndGlyphs" fill="#262626" font-weight="bold">N</text>
<text x="988.66" y="167.34" font-size="12.83" textLength="16.83" lengthAdjust="spacingAndGlyphs" fill="#262626" font-weight="bold">42</text>
<circle cx="1010.0" cy="153.7" r="1.5" fill="none" stroke="#262626" stroke-width="0.9"/>
<text x="1017.11" y="167.47" font-size="13.20" textLength="10.69" lengthAdjust="spacingAndGlyphs" fill="#262626" font-weight="bold">N</text>
<text x="988.65" y="183.49" font-size="12.54" textLength="17.37" lengthAdjust="spacingAndGlyphs" fill="#262626" font-weight="bold">40</text>
<circle cx="1010.0" cy="170.9" r="1.5" fill="none" stroke="#262626" stroke-width="0.9"/>
<text x="1017.11" y="183.61" font-size="12.91" textLength="10.69" lengthAdjust="spacingAndGlyphs" fill="#262626" font-weight="bold">N</text>
<text x="988.82" y="198.62" font-size="13.11" textLength="16.85" lengthAdjust="spacingAndGlyphs" fill="#262626" font-weight="bold">38</text>
<circle cx="1010.0" cy="186.2" r="1.5" fill="none" stroke="#262626" stroke-width="0.9"/>
<text x="1017.11" y="198.75" font-size="13.49" textLength="10.69" lengthAdjust="spacingAndGlyphs" fill="#262626" font-weight="bold">N</text>
<text x="988.81" y="215.77" font-size="12.97" textLength="17.05" lengthAdjust="spacingAndGlyphs" fill="#262626" font-weight="bold">36</text>
<circle cx="1010.0" cy="202.2" r="1.5" fill="none" stroke="#262626" stroke-width="0.9"/>
<text x="1017.11" y="215.90" font-size="13.35" textLength="10.69" lengthAdjust="spacingAndGlyphs" fill="#262626" font-weight="bold">N</text>
<text x="988.82" y="229.70" font-size="12.97" textLength="16.67" lengthAdjust="spacingAndGlyphs" fill="#262626" font-weight="bold">34</text>
<circle cx="1010.0" cy="217.4" r="1.5" fill="none" stroke="#262626" stroke-width="0.9"/>
<text x="1017.11" y="229.82" font-size="13.35" textLength="10.69" lengthAdjust="spacingAndGlyphs" fill="#262626" font-weight="bold">N</text>
<text x="988.82" y="246.95" font-size="12.97" textLength="16.66" lengthAdjust="spacingAndGlyphs" fill="#262626" font-weight="bold">32</text>
<circle cx="1010.0" cy="234.7" r="1.5" fill="none" stroke="#262626" stroke-width="0.9"/>
<text x="1017.11" y="247.08" font-size="13.35" textLength="10.69" lengthAdjust="spacingAndGlyphs" fill="#262626" font-weight="bold">N</text>
<text x="988.81" y="260.98" font-size="12.54" textLength="17.21" lengthAdjust="spacingAndGlyphs" fill="#262626" font-weight="bold">30</text>
<circle cx="1010.0" cy="248.6" r="1.5" fill="none" stroke="#262626" stroke-width="0.9"/>
<text x="1017.11" y="261.10" font-size="12.91" textLength="10.69" lengthAdjust="spacingAndGlyphs" fill="#262626" font-weight="bold">N</text>
<text x="988.79" y="274.10" font-size="11.97" textLength="16.87" lengthAdjust="spacingAndGlyphs" fill="#262626" font-weight="bold">28</text>
<circle cx="1010.0" cy="261.8" r="1.5" fill="none" stroke="#262626" stroke-width="0.9"/>
<text x="1017.11" y="274.22" font-size="12.32" textLength="10.69" lengthAdjust="spacingAndGlyphs" fill="#262626" font-weight="bold">N</text>
<text x="988.79" y="289.23" font-size="12.97" textLength="17.07" lengthAdjust="spacingAndGlyphs" fill="#262626" font-weight="bold">26</text>
<circle cx="1010.0" cy="275.8" r="1.5" fill="none" stroke="#262626" stroke-width="0.9"/>
<text x="1017.11" y="289.36" font-size="13.35" textLength="10.69" lengthAdjust="spacingAndGlyphs" fill="#262626" font-weight="bold">N</text>
<text x="988.80" y="303.16" font-size="12.40" textLength="16.69" lengthAdjust="spacingAndGlyphs" fill="#262626" font-weight="bold">24</text>
<circle cx="1010.0" cy="291.0" r="1.5" fill="none" stroke="#262626" stroke-width="0.9"/>
<text x="1017.11" y="303.28" font-size="12.76" textLength="10.69" lengthAdjust="spacingAndGlyphs" fill="#262626" font-weight="bold">N</text>
<text x="988.80" y="316.67" font-size="12.97" textLength="16.69" lengthAdjust="spacingAndGlyphs" fill="#262626" font-weight="bold">22</text>
<circle cx="1010.0" cy="302.9" r="1.5" fill="none" stroke="#262626" stroke-width="0.9"/>
<text x="1017.11" y="316.80" font-size="13.35" textLength="10.69" lengthAdjust="spacingAndGlyphs" fill="#262626" font-weight="bold">N</text>
<rect x="1285.2" y="93.5" width="23.6" height="218.9" fill="url(#jet)" stroke="#262626" stroke-width="1"/>
<text x="1316.36" y="100.20" font-size="20.62" textLength="57.77" lengthAdjust="spacingAndGlyphs" fill="#262626" font-weight="bold">1000</text>
<line x1="1306.3" y1="93.1" x2="1308.8" y2="93.1" stroke="#262626" stroke-width="1"/>
<text x="1316.09" y="149.60" font-size="20.62" textLength="43.44" lengthAdjust="spacingAndGlyphs" fill="#262626" font-weight="bold">800</text>
<line x1="1306.3" y1="142.5" x2="1308.8" y2="142.5" stroke="#262626" stroke-width="1"/>
<text x="1315.98" y="197.60" font-size="20.62" textLength="43.56" lengthAdjust="spacingAndGlyphs" fill="#262626" font-weight="bold">600</text>
<line x1="1306.3" y1="190.5" x2="1308.8" y2="190.5" stroke="#262626" stroke-width="1"/>
<text x="1316.18" y="246.50" font-size="20.62" textLength="43.35" lengthAdjust="spacingAndGlyphs" fill="#262626" font-weight="bold">400</text>
<line x1="1306.3" y1="239.4" x2="1308.8" y2="239.4" stroke="#262626" stroke-width="1"/>
<text x="1316.40" y="294.50" font-size="20.62" textLength="43.13" lengthAdjust="spacingAndGlyphs" fill="#262626" font-weight="bold">200</text>
<line x1="1306.3" y1="287.4" x2="1308.8" y2="287.4" stroke="#262626" stroke-width="1"/>
<text x="1034.91" y="341.90" font-size="23.98" textLength="229.12" lengthAdjust="spacingAndGlyphs" fill="#262626" font-weight="bold">Cloud Press (hPa)</text>
<rect x="195.5" y="486.5" width="234.0" height="213.0" fill="none" stroke="#262626" stroke-width="1"/>
<g clip-path="none">
<g filter="url(#soft2)">
<circle cx="372.0" cy="488.0" r="4.2" fill="#a8f070"/>
<circle cx="378.0" cy="488.0" r="4.2" fill="#a8f070"/>
<circle cx="386.5" cy="488.0" r="4.2" fill="#90f080"/>
<circle cx="393.3" cy="488.0" r="4.2" fill="#40e0e0"/>
<circle cx="400.9" cy="488.0" r="4.2" fill="#20d8ff"/>
<circle cx="407.7" cy="488.0" r="4.2" fill="#60f0c0"/>
<circle cx="414.5" cy="488.0" r="4.2" fill="#c0ff40"/>
<circle cx="421.2" cy="488.0" r="4.2" fill="#ffb000"/>
<circle cx="428.0" cy="488.0" r="4.2" fill="#f0ff00"/>
<circle cx="373.7" cy="494.0" r="4.2" fill="#90f080"/>
<circle cx="380.5" cy="494.0" r="4.2" fill="#a0f070"/>
<circle cx="388.2" cy="494.0" r="4.2" fill="#50e8d0"/>
<circle cx="395.0" cy="494.0" r="4.2" fill="#20d0ff"/>
<circle cx="401.7" cy="494.0" r="4.2" fill="#20c8ff"/>
<circle cx="408.5" cy="494.0" r="4.2" fill="#40e8e0"/>
<circle cx="415.3" cy="494.0" r="4.2" fill="#e0ff20"/>
<circle cx="422.1" cy="494.0" r="4.2" fill="#f0ff10"/>
<circle cx="428.9" cy="494.0" r="4.2" fill="#e8ff00"/>
<circle cx="377.1" cy="500.0" r="4.2" fill="#90f080"/>
<circle cx="385.6" cy="500.0" r="4.2" fill="#80f0a0"/>
<circle cx="392.4" cy="500.0" r="4.2" fill="#30c0ff"/>
<circle cx="399.2" cy="500.0" r="4.2" fill="#1070ff"/>
<circle cx="406.0" cy="500.0" r="4.2" fill="#20b0ff"/>
<circle cx="412.8" cy="500.0" r="4.2" fill="#c0ff40"/>
<circle cx="419.5" cy="500.0" r="4.2" fill="#f8f000"/>
<circle cx="428.0" cy="500.0" r="4.2" fill="#ff9000"/>
<circle cx="392.4" cy="506.0" r="4.2" fill="#2060ff"/>
<circle cx="400.9" cy="506.0" r="4.2" fill="#1050ff"/>
<circle cx="407.7" cy="506.0" r="4.2" fill="#30c0ff"/>
<circle cx="414.5" cy="506.0" r="4.2" fill="#a0ff60"/>
<circle cx="421.2" cy="506.0" r="4.2" fill="#e0ff20"/>
<circle cx="428.0" cy="506.0" r="4.2" fill="#f0d000"/>
<circle cx="409.4" cy="512.0" r="4.2" fill="#50e8c0"/>
<circle cx="416.2" cy="512.0" r="4.2" fill="#f0ff00"/>
<circle cx="423.0" cy="512.0" r="4.2" fill="#e8ff10"/>
<circle cx="428.9" cy="512.0" r="4.2" fill="#c0ff40"/>
<circle cx="411.0" cy="518.0" r="4.2" fill="#40e8d0"/>
<circle cx="417.9" cy="518.0" r="4.2" fill="#70f0a0"/>
<circle cx="424.6" cy="518.0" r="4.2" fill="#f0ff00"/>
<circle cx="430.6" cy="518.0" r="4.2" fill="#e8ff00"/>
<circle cx="426.3" cy="524.0" r="4.2" fill="#c0ff40"/>
<circle cx="429.7" cy="524.0" r="4.2" fill="#30d0ff"/>
</g>
</g>
<use href="#map" transform="translate(195.50 486.50) scale(1.00000 1.00000) translate(-195.5 -96.5)"/>
<text x="215.02" y="466.67" font-size="13.56" textLength="26.02" lengthAdjust="spacingAndGlyphs" fill="#262626" font-weight="bold">100</text>
<circle cx="245.0" cy="454.4" r="1.5" fill="none" stroke="#262626" stroke-width="0.9"/>
<text x="252.59" y="466.80" font-size="13.95" textLength="13.03" lengthAdjust="spacingAndGlyphs" fill="#262626" font-weight="bold">W</text>
<text x="284.07" y="466.67" font-size="13.56" textLength="16.95" lengthAdjust="spacingAndGlyphs" fill="#262626" font-weight="bold">90</text>
<circle cx="305.0" cy="454.4" r="1.5" fill="none" stroke="#262626" stroke-width="0.9"/>
<text x="313.59" y="466.80" font-size="13.95" textLength="13.03" lengthAdjust="spacingAndGlyphs" fill="#262626" font-weight="bold">W</text>
<text x="348.29" y="466.67" font-size="13.56" textLength="17.76" lengthAdjust="spacingAndGlyphs" fill="#262626" font-weight="bold">80</text>
<circle cx="370.0" cy="454.4" r="1.5" fill="none" stroke="#262626" stroke-width="0.9"/>
<text x="377.59" y="466.80" font-size="13.95" textLength="13.23" lengthAdjust="spacingAndGlyphs" fill="#262626" font-weight="bold">W</text>
<text x="411.15" y="466.67" font-size="13.56" textLength="16.87" lengthAdjust="spacingAndGlyphs" fill="#262626" font-weight="bold">70</text>
<circle cx="432.0" cy="454.4" r="1.5" fill="none" stroke="#262626" stroke-width="0.9"/>
<text x="440.39" y="466.80" font-size="13.95" textLength="13.43" lengthAdjust="spacingAndGlyphs" fill="#262626" font-weight="bold">W</text>
<text x="146.65" y="501.78" font-size="12.71" textLength="17.02" lengthAdjust="spacingAndGlyphs" fill="#262626" font-weight="bold">48</text>
<circle cx="168.0" cy="488.6" r="1.5" fill="none" stroke="#262626" stroke-width="0.9"/>
<text x="175.11" y="501.90" font-size="13.08" textLength="10.69" lengthAdjust="spacingAndGlyphs" fill="#262626" font-weight="bold">N</text>
<text x="146.65" y="519.67" font-size="12.99" textLength="17.21" lengthAdjust="spacingAndGlyphs" fill="#262626" font-weight="bold">46</text>
<circle cx="168.0" cy="507.5" r="1.5" fill="none" stroke="#262626" stroke-width="0.9"/>
<text x="175.11" y="519.80" font-size="13.37" textLength="10.69" lengthAdjust="spacingAndGlyphs" fill="#262626" font-weight="bold">N</text>
<text x="146.66" y="536.98" font-size="12.71" textLength="16.83" lengthAdjust="spacingAndGlyphs" fill="#262626" font-weight="bold">44</text>
<circle cx="168.0" cy="524.5" r="1.5" fill="none" stroke="#262626" stroke-width="0.9"/>
<text x="175.11" y="537.10" font-size="13.08" textLength="10.69" lengthAdjust="spacingAndGlyphs" fill="#262626" font-weight="bold">N</text>
<text x="146.66" y="555.98" font-size="12.71" textLength="16.83" lengthAdjust="spacingAndGlyphs" fill="#262626" font-weight="bold">42</text>
<circle cx="168.0" cy="542.5" r="1.5" fill="none" stroke="#262626" stroke-width="0.9"/>
<text x="175.11" y="556.10" font-size="13.08" textLength="10.69" lengthAdjust="spacingAndGlyphs" fill="#262626" font-weight="bold">N</text>
<text x="146.65" y="571.98" font-size="12.43" textLength="17.37" lengthAdjust="spacingAndGlyphs" fill="#262626" font-weight="bold">40</text>
<circle cx="168.0" cy="559.5" r="1.5" fill="none" stroke="#262626" stroke-width="0.9"/>
<text x="175.11" y="572.10" font-size="12.79" textLength="10.69" lengthAdjust="spacingAndGlyphs" fill="#262626" font-weight="bold">N</text>
<text x="146.82" y="586.97" font-size="12.99" textLength="16.85" lengthAdjust="spacingAndGlyphs" fill="#262626" font-weight="bold">38</text>
<circle cx="168.0" cy="574.7" r="1.5" fill="none" stroke="#262626" stroke-width="0.9"/>
<text x="175.11" y="587.10" font-size="13.37" textLength="10.69" lengthAdjust="spacingAndGlyphs" fill="#262626" font-weight="bold">N</text>
<text x="146.81" y="603.97" font-size="12.85" textLength="17.05" lengthAdjust="spacingAndGlyphs" fill="#262626" font-weight="bold">36</text>
<circle cx="168.0" cy="590.5" r="1.5" fill="none" stroke="#262626" stroke-width="0.9"/>
<text x="175.11" y="604.10" font-size="13.23" textLength="10.69" lengthAdjust="spacingAndGlyphs" fill="#262626" font-weight="bold">N</text>
<text x="146.82" y="617.77" font-size="12.85" textLength="16.67" lengthAdjust="spacingAndGlyphs" fill="#262626" font-weight="bold">34</text>
<circle cx="168.0" cy="605.6" r="1.5" fill="none" stroke="#262626" stroke-width="0.9"/>
<text x="175.11" y="617.90" font-size="13.23" textLength="10.69" lengthAdjust="spacingAndGlyphs" fill="#262626" font-weight="bold">N</text>
<text x="146.82" y="634.87" font-size="12.85" textLength="16.66" lengthAdjust="spacingAndGlyphs" fill="#262626" font-weight="bold">32</text>
<circle cx="168.0" cy="622.7" r="1.5" fill="none" stroke="#262626" stroke-width="0.9"/>
<text x="175.11" y="635.00" font-size="13.23" textLength="10.69" lengthAdjust="spacingAndGlyphs" fill="#262626" font-weight="bold">N</text>
<text x="146.81" y="648.78" font-size="12.43" textLength="17.21" lengthAdjust="spacingAndGlyphs" fill="#262626" font-weight="bold">30</text>
<circle cx="168.0" cy="636.5" r="1.5" fill="none" stroke="#262626" stroke-width="0.9"/>
<text x="175.11" y="648.90" font-size="12.79" textLength="10.69" lengthAdjust="spacingAndGlyphs" fill="#262626" font-weight="bold">N</text>
<text x="146.79" y="661.78" font-size="11.86" textLength="16.87" lengthAdjust="spacingAndGlyphs" fill="#262626" font-weight="bold">28</text>
<circle cx="168.0" cy="649.6" r="1.5" fill="none" stroke="#262626" stroke-width="0.9"/>
<text x="175.11" y="661.90" font-size="12.21" textLength="10.69" lengthAdjust="spacingAndGlyphs" fill="#262626" font-weight="bold">N</text>
<text x="146.79" y="676.77" font-size="12.85" textLength="17.07" lengthAdjust="spacingAndGlyphs" fill="#262626" font-weight="bold">26</text>
<circle cx="168.0" cy="663.5" r="1.5" fill="none" stroke="#262626" stroke-width="0.9"/>
<text x="175.11" y="676.90" font-size="13.23" textLength="10.69" lengthAdjust="spacingAndGlyphs" fill="#262626" font-weight="bold">N</text>
<text x="146.80" y="690.58" font-size="12.29" textLength="16.69" lengthAdjust="spacingAndGlyphs" fill="#262626" font-weight="bold">24</text>
<circle cx="168.0" cy="678.5" r="1.5" fill="none" stroke="#262626" stroke-width="0.9"/>
<text x="175.11" y="690.70" font-size="12.65" textLength="10.69" lengthAdjust="spacingAndGlyphs" fill="#262626" font-weight="bold">N</text>
<text x="146.80" y="703.97" font-size="12.85" textLength="16.69" lengthAdjust="spacingAndGlyphs" fill="#262626" font-weight="bold">22</text>
<circle cx="168.0" cy="690.3" r="1.5" fill="none" stroke="#262626" stroke-width="0.9"/>
<text x="175.11" y="704.10" font-size="13.23" textLength="10.69" lengthAdjust="spacingAndGlyphs" fill="#262626" font-weight="bold">N</text>
<rect x="441.2" y="483.0" width="23.4" height="219.4" fill="url(#jet)" stroke="#262626" stroke-width="1"/>
<text x="473.29" y="517.80" font-size="20.62" textLength="12.88" lengthAdjust="spacingAndGlyphs" fill="#262626" font-weight="bold">5</text>
<line x1="462.1" y1="510.7" x2="464.6" y2="510.7" stroke="#262626" stroke-width="1"/>
<text x="472.34" y="600.00" font-size="20.62" textLength="14.74" lengthAdjust="spacingAndGlyphs" fill="#262626" font-weight="bold">0</text>
<line x1="462.1" y1="592.9" x2="464.6" y2="592.9" stroke="#262626" stroke-width="1"/>
<text x="472.53" y="682.30" font-size="20.62" textLength="22.41" lengthAdjust="spacingAndGlyphs" fill="#262626" font-weight="bold">-5</text>
<line x1="462.1" y1="675.2" x2="464.6" y2="675.2" stroke="#262626" stroke-width="1"/>
<text x="108.02" y="730.80" font-size="23.69" textLength="398.57" lengthAdjust="spacingAndGlyphs" fill="#262626" font-weight="bold">SAT-RAP Negative Lifted Index</text>
<rect x="616.5" y="486.5" width="234.0" height="213.0" fill="none" stroke="#262626" stroke-width="1"/>
<g clip-path="none">
<g filter="url(#soft2)">
<polygon points="790.5,484.0 853.0,484.0 853.0,524.0 847.0,526.0 843.0,517.0 834.0,518.0 829.0,515.0 828.0,507.0 817.0,502.0 804.0,498.5 792.0,492.0" fill="#80f870"/>
<circle cx="796.7" cy="487.5" r="3.8" fill="#80f870"/>
<circle cx="802.9" cy="487.5" r="3.8" fill="#80f870"/>
<circle cx="809.1" cy="487.5" r="3.8" fill="#80f870"/>
<circle cx="815.3" cy="487.5" r="3.8" fill="#80f870"/>
<circle cx="821.5" cy="487.5" r="3.8" fill="#80f870"/>
<circle cx="827.7" cy="487.5" r="3.8" fill="#80f870"/>
<circle cx="833.9" cy="487.5" r="3.8" fill="#80f870"/>
<circle cx="840.1" cy="487.5" r="3.8" fill="#80f870"/>
<circle cx="846.3" cy="487.5" r="3.8" fill="#80f870"/>
<circle cx="852.5" cy="487.5" r="3.8" fill="#80f870"/>
<circle cx="799.7" cy="493.0" r="3.8" fill="#80f870"/>
<circle cx="805.9" cy="493.0" r="3.8" fill="#80f870"/>
<circle cx="812.1" cy="493.0" r="3.8" fill="#80f870"/>
<circle cx="818.3" cy="493.0" r="3.8" fill="#80f870"/>
<circle cx="824.5" cy="493.0" r="3.8" fill="#80f870"/>
<circle cx="830.7" cy="493.0" r="3.8" fill="#80f870"/>
<circle cx="836.9" cy="493.0" r="3.8" fill="#80f870"/>
<circle cx="843.1" cy="493.0" r="3.8" fill="#80f870"/>
<circle cx="849.3" cy="493.0" r="3.8" fill="#80f870"/>
<circle cx="809.1" cy="498.5" r="3.8" fill="#80f870"/>
<circle cx="815.3" cy="498.5" r="3.8" fill="#80f870"/>
<circle cx="821.5" cy="498.5" r="3.8" fill="#80f870"/>
<circle cx="827.7" cy="498.5" r="3.8" fill="#80f870"/>
<circle cx="833.9" cy="498.5" r="3.8" fill="#80f870"/>
<circle cx="840.1" cy="498.5" r="3.8" fill="#80f870"/>
<circle cx="846.3" cy="498.5" r="3.8" fill="#80f870"/>
<circle cx="852.5" cy="498.5" r="3.8" fill="#80f870"/>
<circle cx="824.5" cy="504.0" r="3.8" fill="#80f870"/>
<circle cx="830.7" cy="504.0" r="3.8" fill="#80f870"/>
<circle cx="836.9" cy="504.0" r="3.8" fill="#80f870"/>
<circle cx="843.1" cy="504.0" r="3.8" fill="#80f870"/>
<circle cx="849.3" cy="504.0" r="3.8" fill="#80f870"/>
<circle cx="833.9" cy="509.5" r="3.8" fill="#80f870"/>
<circle cx="840.1" cy="509.5" r="3.8" fill="#80f870"/>
<circle cx="846.3" cy="509.5" r="3.8" fill="#80f870"/>
<circle cx="852.5" cy="509.5" r="3.8" fill="#80f870"/>
<circle cx="830.7" cy="515.0" r="3.8" fill="#80f870"/>
<circle cx="836.9" cy="515.0" r="3.8" fill="#80f870"/>
<circle cx="843.1" cy="515.0" r="3.8" fill="#80f870"/>
<circle cx="849.3" cy="515.0" r="3.8" fill="#80f870"/>
<circle cx="846.3" cy="520.5" r="3.8" fill="#80f870"/>
<circle cx="852.5" cy="520.5" r="3.8" fill="#80f870"/>
<circle cx="800.5" cy="486.5" r="1.8" fill="#ffffff"/>
<circle cx="814.0" cy="486.5" r="1.8" fill="#ffffff"/>
</g>
</g>
<use href="#map" transform="translate(616.50 486.50) scale(1.00000 1.00000) translate(-195.5 -96.5)"/>
<text x="636.02" y="466.67" font-size="13.56" textLength="26.02" lengthAdjust="spacingAndGlyphs" fill="#262626" font-weight="bold">100</text>
<circle cx="666.0" cy="454.4" r="1.5" fill="none" stroke="#262626" stroke-width="0.9"/>
<text x="673.59" y="466.80" font-size="13.95" textLength="13.03" lengthAdjust="spacingAndGlyphs" fill="#262626" font-weight="bold">W</text>
<text x="705.07" y="466.67" font-size="13.56" textLength="16.95" lengthAdjust="spacingAndGlyphs" fill="#262626" font-weight="bold">90</text>
<circle cx="726.0" cy="454.4" r="1.5" fill="none" stroke="#262626" stroke-width="0.9"/>
<text x="734.59" y="466.80" font-size="13.95" textLength="13.03" lengthAdjust="spacingAndGlyphs" fill="#262626" font-weight="bold">W</text>
<text x="769.29" y="466.67" font-size="13.56" textLength="17.76" lengthAdjust="spacingAndGlyphs" fill="#262626" font-weight="bold">80</text>
<circle cx="791.0" cy="454.4" r="1.5" fill="none" stroke="#262626" stroke-width="0.9"/>
<text x="798.59" y="466.80" font-size="13.95" textLength="13.23" lengthAdjust="spacingAndGlyphs" fill="#262626" font-weight="bold">W</text>
<text x="832.15" y="466.67" font-size="13.56" textLength="16.87" lengthAdjust="spacingAndGlyphs" fill="#262626" font-weight="bold">70</text>
<circle cx="853.0" cy="454.4" r="1.5" fill="none" stroke="#262626" stroke-width="0.9"/>
<text x="861.39" y="466.80" font-size="13.95" textLength="13.43" lengthAdjust="spacingAndGlyphs" fill="#262626" font-weight="bold">W</text>
<text x="567.65" y="501.78" font-size="12.71" textLength="17.02" lengthAdjust="spacingAndGlyphs" fill="#262626" font-weight="bold">48</text>
<circle cx="589.0" cy="488.6" r="1.5" fill="none" stroke="#262626" stroke-width="0.9"/>
<text x="596.11" y="501.90" font-size="13.08" textLength="10.69" lengthAdjust="spacingAndGlyphs" fill="#262626" font-weight="bold">N</text>
<text x="567.65" y="519.67" font-size="12.99" textLength="17.21" lengthAdjust="spacingAndGlyphs" fill="#262626" font-weight="bold">46</text>
<circle cx="589.0" cy="507.5" r="1.5" fill="none" stroke="#262626" stroke-width="0.9"/>
<text x="596.11" y="519.80" font-size="13.37" textLength="10.69" lengthAdjust="spacingAndGlyphs" fill="#262626" font-weight="bold">N</text>
<text x="567.66" y="536.98" font-size="12.71" textLength="16.83" lengthAdjust="spacingAndGlyphs" fill="#262626" font-weight="bold">44</text>
<circle cx="589.0" cy="524.5" r="1.5" fill="none" stroke="#262626" stroke-width="0.9"/>
<text x="596.11" y="537.10" font-size="13.08" textLength="10.69" lengthAdjust="spacingAndGlyphs" fill="#262626" font-weight="bold">N</text>
<text x="567.66" y="555.98" font-size="12.71" textLength="16.83" lengthAdjust="spacingAndGlyphs" fill="#262626" font-weight="bold">42</text>
<circle cx="589.0" cy="542.5" r="1.5" fill="none" stroke="#262626" stroke-width="0.9"/>
<text x="596.11" y="556.10" font-size="13.08" textLength="10.69" lengthAdjust="spacingAndGlyphs" fill="#262626" font-weight="bold">N</text>
<text x="567.65" y="571.98" font-size="12.43" textLength="17.37" lengthAdjust="spacingAndGlyphs" fill="#262626" font-weight="bold">40</text>
<circle cx="589.0" cy="559.5" r="1.5" fill="none" stroke="#262626" stroke-width="0.9"/>
<text x="596.11" y="572.10" font-size="12.79" textLength="10.69" lengthAdjust="spacingAndGlyphs" fill="#262626" font-weight="bold">N</text>
<text x="567.82" y="586.97" font-size="12.99" textLength="16.85" lengthAdjust="spacingAndGlyphs" fill="#262626" font-weight="bold">38</text>
<circle cx="589.0" cy="574.7" r="1.5" fill="none" stroke="#262626" stroke-width="0.9"/>
<text x="596.11" y="587.10" font-size="13.37" textLength="10.69" lengthAdjust="spacingAndGlyphs" fill="#262626" font-weight="bold">N</text>
<text x="567.81" y="603.97" font-size="12.85" textLength="17.05" lengthAdjust="spacingAndGlyphs" fill="#262626" font-weight="bold">36</text>
<circle cx="589.0" cy="590.5" r="1.5" fill="none" stroke="#262626" stroke-width="0.9"/>
<text x="596.11" y="604.10" font-size="13.23" textLength="10.69" lengthAdjust="spacingAndGlyphs" fill="#262626" font-weight="bold">N</text>
<text x="567.82" y="617.77" font-size="12.85" textLength="16.67" lengthAdjust="spacingAndGlyphs" fill="#262626" font-weight="bold">34</text>
<circle cx="589.0" cy="605.6" r="1.5" fill="none" stroke="#262626" stroke-width="0.9"/>
<text x="596.11" y="617.90" font-size="13.23" textLength="10.69" lengthAdjust="spacingAndGlyphs" fill="#262626" font-weight="bold">N</text>
<text x="567.82" y="634.87" font-size="12.85" textLength="16.66" lengthAdjust="spacingAndGlyphs" fill="#262626" font-weight="bold">32</text>
<circle cx="589.0" cy="622.7" r="1.5" fill="none" stroke="#262626" stroke-width="0.9"/>
<text x="596.11" y="635.00" font-size="13.23" textLength="10.69" lengthAdjust="spacingAndGlyphs" fill="#262626" font-weight="bold">N</text>
<text x="567.81" y="648.78" font-size="12.43" textLength="17.21" lengthAdjust="spacingAndGlyphs" fill="#262626" font-weight="bold">30</text>
<circle cx="589.0" cy="636.5" r="1.5" fill="none" stroke="#262626" stroke-width="0.9"/>
<text x="596.11" y="648.90" font-size="12.79" textLength="10.69" lengthAdjust="spacingAndGlyphs" fill="#262626" font-weight="bold">N</text>
<text x="567.79" y="661.78" font-size="11.86" textLength="16.87" lengthAdjust="spacingAndGlyphs" fill="#262626" font-weight="bold">28</text>
<circle cx="589.0" cy="649.6" r="1.5" fill="none" stroke="#262626" stroke-width="0.9"/>
<text x="596.11" y="661.90" font-size="12.21" textLength="10.69" lengthAdjust="spacingAndGlyphs" fill="#262626" font-weight="bold">N</text>
<text x="567.79" y="676.77" font-size="12.85" textLength="17.07" lengthAdjust="spacingAndGlyphs" fill="#262626" font-weight="bold">26</text>
<circle cx="589.0" cy="663.5" r="1.5" fill="none" stroke="#262626" stroke-width="0.9"/>
<text x="596.11" y="676.90" font-size="13.23" textLength="10.69" lengthAdjust="spacingAndGlyphs" fill="#262626" font-weight="bold">N</text>
<text x="567.80" y="690.58" font-size="12.29" textLength="16.69" lengthAdjust="spacingAndGlyphs" fill="#262626" font-weight="bold">24</text>
<circle cx="589.0" cy="678.5" r="1.5" fill="none" stroke="#262626" stroke-width="0.9"/>
<text x="596.11" y="690.70" font-size="12.65" textLength="10.69" lengthAdjust="spacingAndGlyphs" fill="#262626" font-weight="bold">N</text>
<text x="567.80" y="703.97" font-size="12.85" textLength="16.69" lengthAdjust="spacingAndGlyphs" fill="#262626" font-weight="bold">22</text>
<circle cx="589.0" cy="690.3" r="1.5" fill="none" stroke="#262626" stroke-width="0.9"/>
<text x="596.11" y="704.10" font-size="13.23" textLength="10.69" lengthAdjust="spacingAndGlyphs" fill="#262626" font-weight="bold">N</text>
<rect x="862.1" y="483.0" width="23.7" height="219.4" fill="url(#jet)" stroke="#262626" stroke-width="1"/>
<text x="894.11" y="501.00" font-size="20.62" textLength="43.35" lengthAdjust="spacingAndGlyphs" fill="#262626" font-weight="bold">400</text>
<line x1="883.3" y1="493.9" x2="885.8" y2="493.9" stroke="#262626" stroke-width="1"/>
<text x="894.32" y="550.50" font-size="20.62" textLength="43.13" lengthAdjust="spacingAndGlyphs" fill="#262626" font-weight="bold">200</text>
<line x1="883.3" y1="543.4" x2="885.8" y2="543.4" stroke="#262626" stroke-width="1"/>
<text x="893.51" y="599.90" font-size="20.62" textLength="14.74" lengthAdjust="spacingAndGlyphs" fill="#262626" font-weight="bold">0</text>
<line x1="883.3" y1="592.8" x2="885.8" y2="592.8" stroke="#262626" stroke-width="1"/>
<text x="893.67" y="649.40" font-size="20.62" textLength="52.51" lengthAdjust="spacingAndGlyphs" fill="#262626" font-weight="bold">-200</text>
<line x1="883.3" y1="642.3" x2="885.8" y2="642.3" stroke="#262626" stroke-width="1"/>
<text x="893.67" y="698.80" font-size="20.62" textLength="52.51" lengthAdjust="spacingAndGlyphs" fill="#262626" font-weight="bold">-400</text>
<line x1="883.3" y1="691.7" x2="885.8" y2="691.7" stroke="#262626" stroke-width="1"/>
<text x="635.28" y="730.70" font-size="23.55" textLength="186.18" lengthAdjust="spacingAndGlyphs" fill="#262626" font-weight="bold">SAT-RAP CAPE</text>
<rect x="1037.5" y="485.5" width="235.0" height="215.0" fill="none" stroke="#262626" stroke-width="1"/>
<g clip-path="none">
<g filter="url(#soft2)">
<circle cx="1216.3" cy="486.0" r="4.2" fill="#18d8ff"/>
<circle cx="1228.3" cy="486.0" r="4.2" fill="#18d8ff"/>
<circle cx="1243.7" cy="486.0" r="4.2" fill="#10e0ff"/>
<circle cx="1251.7" cy="486.0" r="4.2" fill="#b0ff40"/>
<circle cx="1258.3" cy="486.0" r="4.2" fill="#c0ff30"/>
<circle cx="1265.0" cy="486.0" r="4.2" fill="#90f060"/>
<circle cx="1271.7" cy="486.0" r="4.2" fill="#90f060"/>
<circle cx="1218.3" cy="491.0" r="4.2" fill="#20c8ff"/>
<circle cx="1225.0" cy="491.0" r="4.2" fill="#20d0ff"/>
<circle cx="1231.7" cy="491.0" r="4.2" fill="#20c0ff"/>
<circle cx="1239.7" cy="491.0" r="4.2" fill="#10e0ff"/>
<circle cx="1246.3" cy="491.0" r="4.2" fill="#10e8f0"/>
<circle cx="1251.7" cy="491.0" r="4.2" fill="#80f070"/>
<circle cx="1258.3" cy="491.0" r="4.2" fill="#60f0a0"/>
<circle cx="1265.0" cy="491.0" r="4.2" fill="#40e8c0"/>
<circle cx="1271.7" cy="491.0" r="4.2" fill="#90f060"/>
<circle cx="1221.0" cy="497.0" r="4.2" fill="#20c8ff"/>
<circle cx="1227.0" cy="497.0" r="4.2" fill="#20d0ff"/>
<circle cx="1235.0" cy="497.0" r="4.2" fill="#10d8ff"/>
<circle cx="1241.7" cy="497.0" r="4.2" fill="#10e0ff"/>
<circle cx="1247.7" cy="497.0" r="4.2" fill="#30e8e0"/>
<circle cx="1250.3" cy="497.0" r="4.2" fill="#50f0b0"/>
<circle cx="1257.0" cy="497.0" r="4.2" fill="#a0ff50"/>
<circle cx="1263.7" cy="497.0" r="4.2" fill="#60f0b0"/>
<circle cx="1270.3" cy="497.0" r="4.2" fill="#d0ff20"/>
<circle cx="1235.7" cy="503.0" r="4.2" fill="#10d8ff"/>
<circle cx="1242.3" cy="503.0" r="4.2" fill="#20e0f0"/>
<circle cx="1248.3" cy="503.0" r="4.2" fill="#40e8d0"/>
<circle cx="1255.0" cy="503.0" r="4.2" fill="#80f070"/>
<circle cx="1261.7" cy="503.0" r="4.2" fill="#d0ff20"/>
<circle cx="1268.3" cy="503.0" r="4.2" fill="#f0f000"/>
<circle cx="1273.7" cy="503.0" r="4.2" fill="#f0ff00"/>
<circle cx="1251.7" cy="509.0" r="4.2" fill="#40e0f0"/>
<circle cx="1258.3" cy="509.0" r="4.2" fill="#e8ff10"/>
<circle cx="1265.0" cy="509.0" r="4.2" fill="#f8e000"/>
<circle cx="1271.0" cy="509.0" r="4.2" fill="#a0f050"/>
<circle cx="1253.0" cy="515.0" r="4.2" fill="#10e0ff"/>
<circle cx="1259.7" cy="515.0" r="4.2" fill="#30e0e0"/>
<circle cx="1265.0" cy="515.0" r="4.2" fill="#90f070"/>
<circle cx="1271.0" cy="515.0" r="4.2" fill="#80f080"/>
<circle cx="1255.7" cy="521.0" r="4.2" fill="#10e0ff"/>
<circle cx="1261.7" cy="521.0" r="4.2" fill="#60f0b0"/>
<circle cx="1269.0" cy="521.0" r="4.2" fill="#90f080"/>
<circle cx="1274.3" cy="521.0" r="4.2" fill="#e8ff20"/>
<circle cx="1270.0" cy="526.0" r="4.2" fill="#a0f060"/>
<circle cx="1274.5" cy="526.0" r="4.2" fill="#e0ff20"/>
</g>
</g>
<use href="#map" transform="translate(1037.50 485.50) scale(1.00427 1.00939) translate(-195.5 -96.5)"/>
<text x="1058.82" y="464.97" font-size="13.56" textLength="26.02" lengthAdjust="spacingAndGlyphs" fill="#262626" font-weight="bold">100</text>
<circle cx="1088.8" cy="452.7" r="1.5" fill="none" stroke="#262626" stroke-width="0.9"/>
<text x="1096.39" y="465.10" font-size="13.95" textLength="13.03" lengthAdjust="spacingAndGlyphs" fill="#262626" font-weight="bold">W</text>
<text x="1127.87" y="464.97" font-size="13.56" textLength="16.95" lengthAdjust="spacingAndGlyphs" fill="#262626" font-weight="bold">90</text>
<circle cx="1148.8" cy="452.7" r="1.5" fill="none" stroke="#262626" stroke-width="0.9"/>
<text x="1157.39" y="465.10" font-size="13.95" textLength="13.03" lengthAdjust="spacingAndGlyphs" fill="#262626" font-weight="bold">W</text>
<text x="1192.09" y="464.97" font-size="13.56" textLength="17.76" lengthAdjust="spacingAndGlyphs" fill="#262626" font-weight="bold">80</text>
<circle cx="1213.8" cy="452.7" r="1.5" fill="none" stroke="#262626" stroke-width="0.9"/>
<text x="1221.39" y="465.10" font-size="13.95" textLength="13.23" lengthAdjust="spacingAndGlyphs" fill="#262626" font-weight="bold">W</text>
<text x="1254.95" y="464.97" font-size="13.56" textLength="16.87" lengthAdjust="spacingAndGlyphs" fill="#262626" font-weight="bold">70</text>
<circle cx="1275.8" cy="452.7" r="1.5" fill="none" stroke="#262626" stroke-width="0.9"/>
<text x="1284.19" y="465.10" font-size="13.95" textLength="13.43" lengthAdjust="spacingAndGlyphs" fill="#262626" font-weight="bold">W</text>
<text x="988.65" y="501.66" font-size="12.83" textLength="17.02" lengthAdjust="spacingAndGlyphs" fill="#262626" font-weight="bold">48</text>
<circle cx="1010.0" cy="488.4" r="1.5" fill="none" stroke="#262626" stroke-width="0.9"/>
<text x="1017.11" y="501.78" font-size="13.20" textLength="10.69" lengthAdjust="spacingAndGlyphs" fill="#262626" font-weight="bold">N</text>
<text x="988.65" y="519.71" font-size="13.11" textLength="17.21" lengthAdjust="spacingAndGlyphs" fill="#262626" font-weight="bold">46</text>
<circle cx="1010.0" cy="507.4" r="1.5" fill="none" stroke="#262626" stroke-width="0.9"/>
<text x="1017.11" y="519.84" font-size="13.49" textLength="10.69" lengthAdjust="spacingAndGlyphs" fill="#262626" font-weight="bold">N</text>
<text x="988.66" y="537.17" font-size="12.83" textLength="16.83" lengthAdjust="spacingAndGlyphs" fill="#262626" font-weight="bold">44</text>
<circle cx="1010.0" cy="524.6" r="1.5" fill="none" stroke="#262626" stroke-width="0.9"/>
<text x="1017.11" y="537.30" font-size="13.20" textLength="10.69" lengthAdjust="spacingAndGlyphs" fill="#262626" font-weight="bold">N</text>
<text x="988.66" y="556.34" font-size="12.83" textLength="16.83" lengthAdjust="spacingAndGlyphs" fill="#262626" font-weight="bold">42</text>
<circle cx="1010.0" cy="542.7" r="1.5" fill="none" stroke="#262626" stroke-width="0.9"/>
<text x="1017.11" y="556.47" font-size="13.20" textLength="10.69" lengthAdjust="spacingAndGlyphs" fill="#262626" font-weight="bold">N</text>
<text x="988.65" y="572.49" font-size="12.54" textLength="17.37" lengthAdjust="spacingAndGlyphs" fill="#262626" font-weight="bold">40</text>
<circle cx="1010.0" cy="559.9" r="1.5" fill="none" stroke="#262626" stroke-width="0.9"/>
<text x="1017.11" y="572.61" font-size="12.91" textLength="10.69" lengthAdjust="spacingAndGlyphs" fill="#262626" font-weight="bold">N</text>
<text x="988.82" y="587.62" font-size="13.11" textLength="16.85" lengthAdjust="spacingAndGlyphs" fill="#262626" font-weight="bold">38</text>
<circle cx="1010.0" cy="575.2" r="1.5" fill="none" stroke="#262626" stroke-width="0.9"/>
<text x="1017.11" y="587.75" font-size="13.49" textLength="10.69" lengthAdjust="spacingAndGlyphs" fill="#262626" font-weight="bold">N</text>
<text x="988.81" y="604.77" font-size="12.97" textLength="17.05" lengthAdjust="spacingAndGlyphs" fill="#262626" font-weight="bold">36</text>
<circle cx="1010.0" cy="591.2" r="1.5" fill="none" stroke="#262626" stroke-width="0.9"/>
<text x="1017.11" y="604.90" font-size="13.35" textLength="10.69" lengthAdjust="spacingAndGlyphs" fill="#262626" font-weight="bold">N</text>
<text x="988.82" y="618.70" font-size="12.97" textLength="16.67" lengthAdjust="spacingAndGlyphs" fill="#262626" font-weight="bold">34</text>
<circle cx="1010.0" cy="606.4" r="1.5" fill="none" stroke="#262626" stroke-width="0.9"/>
<text x="1017.11" y="618.83" font-size="13.35" textLength="10.69" lengthAdjust="spacingAndGlyphs" fill="#262626" font-weight="bold">N</text>
<text x="988.82" y="635.95" font-size="12.97" textLength="16.66" lengthAdjust="spacingAndGlyphs" fill="#262626" font-weight="bold">32</text>
<circle cx="1010.0" cy="623.7" r="1.5" fill="none" stroke="#262626" stroke-width="0.9"/>
<text x="1017.11" y="636.08" font-size="13.35" textLength="10.69" lengthAdjust="spacingAndGlyphs" fill="#262626" font-weight="bold">N</text>
<text x="988.81" y="649.98" font-size="12.54" textLength="17.21" lengthAdjust="spacingAndGlyphs" fill="#262626" font-weight="bold">30</text>
<circle cx="1010.0" cy="637.6" r="1.5" fill="none" stroke="#262626" stroke-width="0.9"/>
<text x="1017.11" y="650.10" font-size="12.91" textLength="10.69" lengthAdjust="spacingAndGlyphs" fill="#262626" font-weight="bold">N</text>
<text x="988.79" y="663.10" font-size="11.97" textLength="16.87" lengthAdjust="spacingAndGlyphs" fill="#262626" font-weight="bold">28</text>
<circle cx="1010.0" cy="650.8" r="1.5" fill="none" stroke="#262626" stroke-width="0.9"/>
<text x="1017.11" y="663.22" font-size="12.32" textLength="10.69" lengthAdjust="spacingAndGlyphs" fill="#262626" font-weight="bold">N</text>
<text x="988.79" y="678.23" font-size="12.97" textLength="17.07" lengthAdjust="spacingAndGlyphs" fill="#262626" font-weight="bold">26</text>
<circle cx="1010.0" cy="664.8" r="1.5" fill="none" stroke="#262626" stroke-width="0.9"/>
<text x="1017.11" y="678.36" font-size="13.35" textLength="10.69" lengthAdjust="spacingAndGlyphs" fill="#262626" font-weight="bold">N</text>
<text x="988.80" y="692.16" font-size="12.40" textLength="16.69" lengthAdjust="spacingAndGlyphs" fill="#262626" font-weight="bold">24</text>
<circle cx="1010.0" cy="680.0" r="1.5" fill="none" stroke="#262626" stroke-width="0.9"/>
<text x="1017.11" y="692.28" font-size="12.76" textLength="10.69" lengthAdjust="spacingAndGlyphs" fill="#262626" font-weight="bold">N</text>
<text x="988.80" y="705.67" font-size="12.97" textLength="16.69" lengthAdjust="spacingAndGlyphs" fill="#262626" font-weight="bold">22</text>
<circle cx="1010.0" cy="691.9" r="1.5" fill="none" stroke="#262626" stroke-width="0.9"/>
<text x="1017.11" y="705.80" font-size="13.35" textLength="10.69" lengthAdjust="spacingAndGlyphs" fill="#262626" font-weight="bold">N</text>
<rect x="1285.2" y="483.2" width="23.6" height="219.2" fill="url(#jet)" stroke="#262626" stroke-width="1"/>
<text x="1317.10" y="515.60" font-size="20.62" textLength="43.13" lengthAdjust="spacingAndGlyphs" fill="#262626" font-weight="bold">280</text>
<line x1="1306.3" y1="508.5" x2="1308.8" y2="508.5" stroke="#262626" stroke-width="1"/>
<text x="1317.10" y="571.70" font-size="20.62" textLength="43.13" lengthAdjust="spacingAndGlyphs" fill="#262626" font-weight="bold">270</text>
<line x1="1306.3" y1="564.6" x2="1308.8" y2="564.6" stroke="#262626" stroke-width="1"/>
<text x="1317.10" y="627.60" font-size="20.62" textLength="43.13" lengthAdjust="spacingAndGlyphs" fill="#262626" font-weight="bold">260</text>
<line x1="1306.3" y1="620.5" x2="1308.8" y2="620.5" stroke="#262626" stroke-width="1"/>
<text x="1317.10" y="683.40" font-size="20.62" textLength="43.13" lengthAdjust="spacingAndGlyphs" fill="#262626" font-weight="bold">250</text>
<line x1="1306.3" y1="676.3" x2="1308.8" y2="676.3" stroke="#262626" stroke-width="1"/>
<text x="957.91" y="731.80" font-size="24.27" textLength="385.25" lengthAdjust="spacingAndGlyphs" fill="#262626" font-weight="bold">Surface Skin Temperature (K)</text>
</svg></body></html>
